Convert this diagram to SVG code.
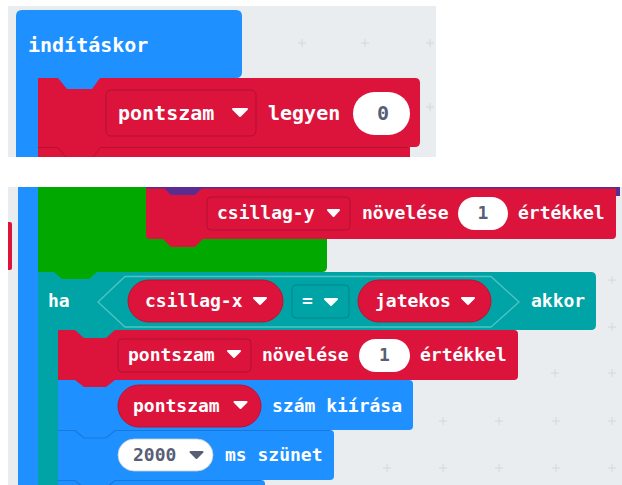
<svg xmlns="http://www.w3.org/2000/svg" width="622" height="485" viewBox="0 0 622 485">
  <defs>
    <style>
      .ws { fill: #e9edf0; }
      .grid { stroke: #d3d8dc; stroke-width: 1; fill: none; }
      .blue { fill: #1e90ff; }
      .red { fill: #dc143c; }
      .green { fill: #00a800; }
      .teal { fill: #00a4a6; }
      .purple { fill: #5c2d91; }
      .dd { fill: #dc143c; stroke: #b30f31; stroke-width: 1; }
      .pill { fill: #dc143c; stroke: #c0102f; stroke-width: 1; }
      .num { fill: #ffffff; }
      .t { font-family: "DejaVu Sans Mono", "Liberation Mono", monospace; font-weight: bold; fill: #ffffff; }
      .t20 { font-size: 20px; }
      .t18 { font-size: 18px; }
      .g { fill: #575e75; }
      .arrow { fill: #ffffff; stroke: #ffffff; stroke-width: 2; stroke-linejoin: round; }
      .arrowg { fill: #575e75; stroke: #575e75; stroke-width: 2; stroke-linejoin: round; }
      .seam-r { fill: none; stroke: #b8112f; stroke-width: 1.2; }
      .seam-b { fill: none; stroke: #1878dc; stroke-width: 1.2; }
    </style>
    <clipPath id="clipTop"><rect x="8" y="6" width="428" height="151"/></clipPath>
    <clipPath id="clipBottom"><rect x="8" y="187" width="614" height="298"/></clipPath>
  </defs>

  <rect width="622" height="485" fill="#ffffff"/>

  <!-- upper workspace: on start -->
  <g clip-path="url(#clipTop)">
    <rect class="ws" x="8" y="6" width="428" height="151"/>
    <g class="grid">
      <path d="M298,43 h8 M302,39 v8 M361,43 h8 M365,39 v8 M426,43 h8 M430,39 v8 M426,107 h8 M430,103 v8"/>
    </g>

    <g id="on-start">
      <path class="blue" d="M16,157 V16 Q16,10 22,10 H236 Q242,10 242,16 V72 Q242,78 236,78 H38 V157 Z"/>
      <text class="t t20" x="28" y="52">indításkor</text>
    </g>

    <g id="next-block-top">
      <rect class="red" x="38" y="147" width="372" height="14"/>
      <path class="seam-r" d="M38,147.5 H58 L67,158 H92 L100,147.5 H408"/>
    </g>

    <g id="set-pontszam">
      <path class="red" d="M38,78 H415 Q420,78 420,83 V142 Q420,147 415,147 H100 L92,158 H67 L58,147 H38 Z"/>
      <path class="blue" d="M58,78 L67,89 H92 L100,78 Z"/>
      <rect class="dd" x="106" y="90" width="150" height="46" rx="5"/>
      <text class="t t20" x="118" y="120">pontszam</text>
      <path class="arrow" d="M233,109 H247 L240,116 Z"/>
      <text class="t t20" x="268" y="120">legyen</text>
      <rect class="num" x="353" y="92" width="57" height="43" rx="21.5"/>
      <text class="t t20 g" x="383" y="120" text-anchor="middle">0</text>
    </g>
  </g>

  <!-- lower workspace: loop body and condition -->
  <g clip-path="url(#clipBottom)">
    <rect class="ws" x="8" y="187" width="614" height="298"/>
    <g class="grid">
      <path d="M608,280 h8 M612,276 v8 M608,327 h8 M612,323 v8
               M551,373 h8 M555,369 v8 M608,373 h8 M612,369 v8
               M439,421 h8 M443,417 v8 M495,421 h8 M499,417 v8 M552,421 h8 M556,417 v8 M608,421 h8 M612,417 v8
               M383,468 h8 M387,464 v8 M439,468 h8 M443,464 v8 M495,468 h8 M499,464 v8 M552,468 h8 M556,464 v8 M608,468 h8 M612,464 v8"/>
    </g>

    <g id="side-block">
      <path class="red" d="M4,222 H10 Q12,222 12,224 V268 Q12,270 10,270 H4 Z"/>
    </g>

    <g id="outer-arm">
      <rect class="blue" x="18" y="187" width="20" height="298"/>
    </g>

    <g id="loop-block">
      <path class="green" d="M38,187 H327 V267 Q327,272 322,272 H38 Z"/>
    </g>

    <g id="change-csillag-y">
      <path class="purple" d="M146,185 H620 V196 H612 V189 H146 Z"/>
      <path class="red" d="M146,188.5 H616 V235 Q616,239 612,239 H203 L195,247 H171 L163,239 H150 Q146,239 146,235 Z"/>
      <path class="purple" d="M163,187 L171,195 H195 L203,187 Z"/>
      <rect class="dd" x="207" y="197" width="143" height="33" rx="4"/>
      <text class="t t18" x="217" y="219">csillag-y</text>
      <path class="arrow" d="M328,210 H339 L333.5,216 Z"/>
      <text class="t t18" x="362" y="219">növelése</text>
      <rect class="num" x="458" y="197" width="50" height="33" rx="16.5"/>
      <text class="t t18 g" x="483" y="219" text-anchor="middle">1</text>
      <text class="t t18" x="518" y="219">értékkel</text>
    </g>

    <g id="if-block">
      <path class="teal" d="M38,272 H591 Q596,272 596,277 V325 Q596,330 591,330 H58 V485 H38 Z"/>
      <path class="green" d="M54,272 L62,279 H89 L97,272 Z"/>
      <path d="M98,302 L125,276.5 H491 L519,302 L491,327 H125 Z" fill="none" stroke="#4ec3c4" stroke-width="1.3"/>
      <text class="t t18" x="48" y="307">ha</text>
      <rect class="pill" x="128" y="280" width="155" height="42" rx="21"/>
      <text class="t t18" x="145" y="307">csillag-x</text>
      <path class="arrow" d="M254,298 H266 L260,304 Z"/>
      <rect x="292" y="285" width="57" height="33" rx="4" fill="#00a4a6" stroke="#008688" stroke-width="1"/>
      <text class="t t18" x="302" y="307">=</text>
      <path class="arrow" d="M325,299 H337 L331,305 Z"/>
      <rect class="pill" x="358" y="280" width="133" height="42" rx="21"/>
      <text class="t t18" x="375" y="307">jatekos</text>
      <path class="arrow" d="M462,298 H474 L468,304 Z"/>
      <text class="t t18" x="531" y="307">akkor</text>
    </g>

    <g id="change-pontszam">
      <path class="red" d="M58,330 H514 Q518,330 518,334 V376 Q518,380 514,380 H58 Z"/>
      <path class="teal" d="M75,330 L84,338 H106 L115,330 Z"/>
      <rect class="dd" x="118" y="339" width="133" height="33" rx="4"/>
      <text class="t t18" x="128" y="361">pontszam</text>
      <path class="arrow" d="M228,351 H240 L234,357 Z"/>
      <text class="t t18" x="262" y="361">növelése</text>
      <rect class="num" x="359" y="339" width="51" height="33" rx="16.5"/>
      <text class="t t18 g" x="384.5" y="361" text-anchor="middle">1</text>
      <text class="t t18" x="420" y="361">értékkel</text>
    </g>

    <g id="show-number">
      <path class="blue" d="M58,380 H409 Q413,380 413,384 V426 Q413,430 409,430 H58 Z"/>
      <path class="red" d="M75,380 L84,387 H106 L115,380 Z"/>
      <rect class="pill" x="118" y="385" width="143" height="42" rx="21"/>
      <text class="t t18" x="133" y="412">pontszam</text>
      <path class="arrow" d="M234.5,402 H246.5 L240.5,408 Z"/>
      <text class="t t18" x="272" y="412">szám kiírása</text>
    </g>

    <g id="pause">
      <path class="blue" d="M58,430 H330 Q334,430 334,434 V476 Q334,480 330,480 H58 Z"/>
      <path class="seam-b" d="M58,430.5 H75 L84,438 H106 L115,430.5 H330"/>
      <rect class="num" x="118" y="439" width="95" height="32" rx="16" stroke="#c9cdd2" stroke-width="0.8"/>
      <text class="t t18 g" x="133" y="461">2000</text>
      <path class="arrowg" d="M190.5,452 H202.5 L196.5,458 Z"/>
      <text class="t t18" x="225" y="461">ms szünet</text>
    </g>

    <g id="next-block-bottom">
      <path class="blue" d="M58,480 H261 Q265,480 265,484 V490 H58 Z"/>
      <path class="seam-b" d="M58,480.5 H75 L84,488 H106 L115,480.5 H261"/>
    </g>
  </g>
</svg>
